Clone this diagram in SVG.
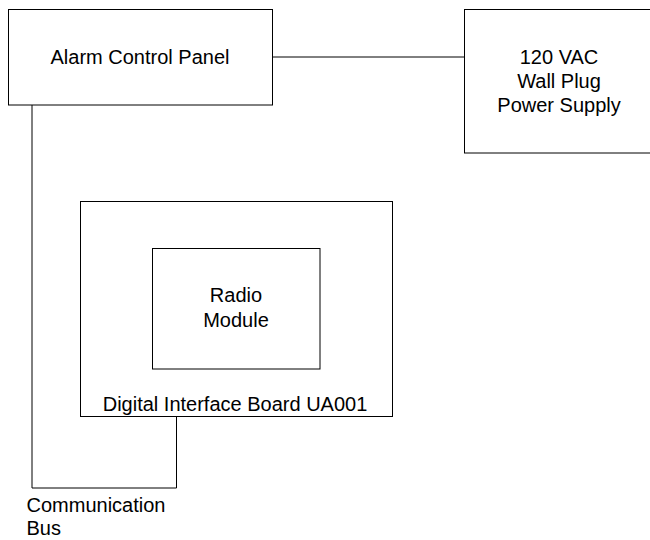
<svg xmlns="http://www.w3.org/2000/svg" width="650" height="540" viewBox="0 0 650 540">
<style>
.box{fill:#fff;stroke:#000;stroke-width:1}
.ln{fill:none;stroke:#000;stroke-width:1}
text{font-family:"Liberation Sans",Arial,sans-serif;font-size:20px;fill:#000}
.c{text-anchor:middle}
</style>
<rect width="650" height="540" fill="#fff"/>
<g id="connectors">
<path class="ln" d="M272.5,57 H464.5"/>
<path class="ln" d="M32,105 V488 H176.5 V416.5"/>
</g>
<g id="alarm-panel">
<rect class="box" x="8.5" y="9.5" width="264" height="95.5"/>
<text class="c" x="140" y="64">Alarm Control Panel</text>
</g>
<g id="power-supply">
<rect class="box" x="464.5" y="9.5" width="190" height="143.5"/>
<text class="c" x="559" y="64">120 VAC</text>
<text class="c" x="559" y="88">Wall Plug</text>
<text class="c" x="559" y="112">Power Supply</text>
</g>
<g id="digital-interface-board">
<rect class="box" x="80.5" y="201.5" width="312" height="215"/>
<text class="c" x="235" y="411">Digital Interface Board UA001</text>
</g>
<g id="radio-module">
<rect class="box" x="152.5" y="248.5" width="167.5" height="120.5"/>
<text class="c" x="236" y="302">Radio</text>
<text class="c" x="236" y="327">Module</text>
</g>
<g id="communication-bus-label">
<text x="26.5" y="512">Communication</text>
<text x="26.5" y="535">Bus</text>
</g>
</svg>
